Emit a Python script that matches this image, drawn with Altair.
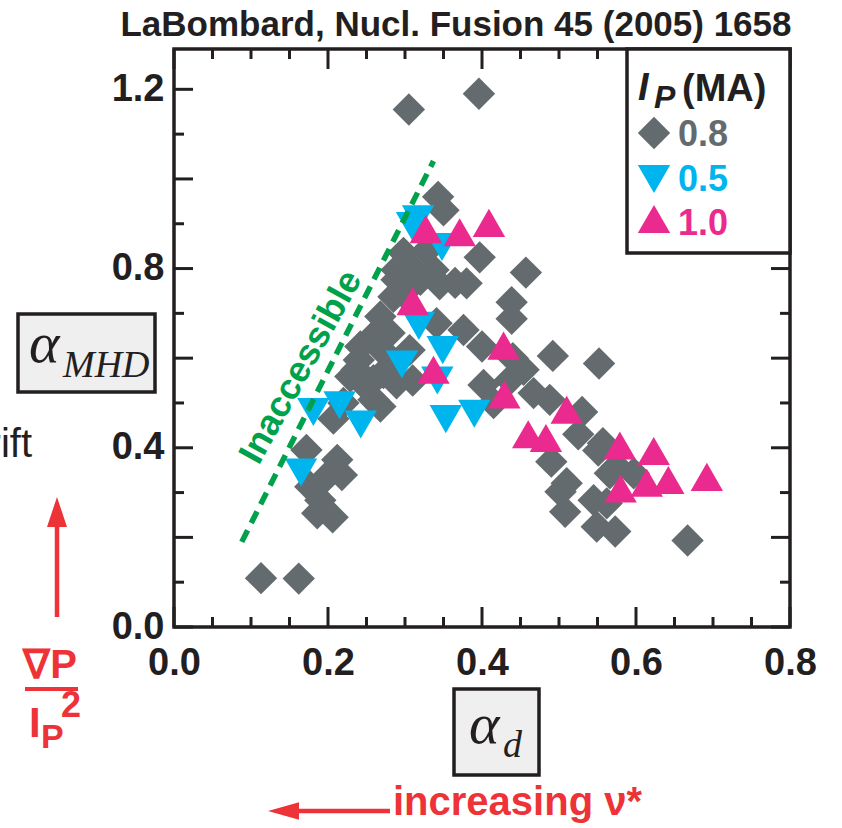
import altair as alt
import pandas as pd

# ---------------- data ----------------
gray_x = [0.113, 0.162, 0.305, 0.396, 0.667, 0.172, 0.177, 0.190, 0.186, 0.206,
          0.198, 0.212, 0.218, 0.207, 0.220, 0.229, 0.237, 0.240, 0.250, 0.259,
          0.259, 0.268, 0.272, 0.280, 0.289, 0.242, 0.258, 0.272, 0.280, 0.268,
          0.285, 0.298, 0.289, 0.289, 0.298, 0.310, 0.328, 0.337, 0.320, 0.345,
          0.343, 0.350, 0.380, 0.397, 0.457, 0.4385, 0.4385, 0.376, 0.400, 0.341,
          0.306, 0.310, 0.492, 0.552, 0.402, 0.415, 0.436, 0.454, 0.467, 0.488,
          0.530, 0.525, 0.551, 0.490, 0.575, 0.597, 0.566, 0.510, 0.502, 0.508,
          0.545, 0.549, 0.573, 0.562, 0.557, 0.365, 0.440]
gray_y = [0.109, 0.108, 1.155, 1.190, 0.193, 0.395, 0.313, 0.283, 0.254, 0.245,
          0.335, 0.373, 0.339, 0.465, 0.500, 0.559, 0.574, 0.596, 0.536, 0.551,
          0.507, 0.492, 0.567, 0.581, 0.544, 0.626, 0.648, 0.615, 0.656, 0.693,
          0.737, 0.745, 0.775, 0.797, 0.835, 0.800, 0.840, 0.797, 0.775, 0.765,
          0.960, 0.930, 0.767, 0.825, 0.791, 0.725, 0.688, 0.663, 0.626, 0.678,
          0.618, 0.550, 0.605, 0.588, 0.540, 0.500, 0.551, 0.574, 0.522, 0.507,
          0.480, 0.430, 0.394, 0.369, 0.358, 0.343, 0.343, 0.321, 0.302, 0.257,
          0.283, 0.224, 0.213, 0.276, 0.410, 0.768, 0.600]

blue_x = [0.165, 0.181, 0.215, 0.2425, 0.296, 0.309, 0.317, 0.318, 0.342, 0.349,
          0.348, 0.353, 0.390]
blue_y = [0.345, 0.480, 0.495, 0.452, 0.586, 0.895, 0.910, 0.672, 0.550, 0.618,
          0.848, 0.464, 0.476]

pink_x = [0.310, 0.327, 0.337, 0.371, 0.409, 0.428, 0.429, 0.460, 0.483, 0.510,
          0.579, 0.623, 0.580, 0.614, 0.642, 0.692]
pink_y = [0.727, 0.888, 0.574, 0.881, 0.902, 0.628, 0.519, 0.430, 0.422, 0.485,
          0.405, 0.393, 0.309, 0.322, 0.328, 0.335]

series_labels = ["0.8", "0.5", "1.0"]
series_colors = ["#646B6E", "#00B4EE", "#EA2A8E"]
series_shapes = ["diamond", "triangle-down", "triangle-up"]

x_labels = [0.0, 0.2, 0.4, 0.6, 0.8]
x_major = [0.0, 0.2, 0.4, 0.6, 0.8]
x_minor = [0.05, 0.1, 0.15, 0.25, 0.3, 0.35, 0.45, 0.5, 0.55, 0.65, 0.7, 0.75]
y_labels = [0.0, 0.4, 0.8, 1.2]
y_major = [0.0, 0.2, 0.4, 0.6, 0.8, 1.0, 1.2]
y_minor = [0.1, 0.3, 0.5, 0.7, 0.9, 1.1]

boundary_x = [0.088, 0.337]
boundary_y = [0.19, 1.04]

# ---------------- styling ----------------
FRAME = "#231F20"
GREEN = "#00A14B"
RED = "#EE3338"
SANS = "Liberation Sans"
SERIF = "Liberation Serif"
W, H = 616, 578

xs = alt.Scale(domain=[0, 0.8], nice=False, zero=False)
ys = alt.Scale(domain=[0, 1.29], nice=False, zero=False)
x_axis = alt.Axis(values=x_labels, format=".1f", labelPadding=17, labelFlush=False, title=None)
y_axis = alt.Axis(values=y_labels, format=".1f", labelPadding=10, labelFlush=False, title=None)

rows = []
for xv, yv, lab in [(gray_x, gray_y, "0.8"), (blue_x, blue_y, "0.5"), (pink_x, pink_y, "1.0")]:
    for a, b in zip(xv, yv):
        rows.append({"x": a, "y": b, "series": lab})
pts = pd.DataFrame(rows)

points = alt.Chart(pts).mark_point(filled=True, opacity=1, size=1050, strokeWidth=0).encode(
    x=alt.X("x:Q", scale=xs, axis=x_axis),
    y=alt.Y("y:Q", scale=ys, axis=y_axis),
    shape=alt.Shape("series:N", scale=alt.Scale(domain=series_labels, range=series_shapes), legend=None),
    color=alt.Color("series:N", scale=alt.Scale(domain=series_labels, range=series_colors), legend=None),
)

layers = [points]

# inward ticks on all four sides
def xticks(vals, length):
    d = pd.DataFrame({"x": vals})
    b = alt.Chart(d).mark_rule(color=FRAME, strokeWidth=3).encode(
        x=alt.X("x:Q", scale=xs, axis=x_axis), y=alt.value(H), y2=alt.value(H - length))
    t = alt.Chart(d).mark_rule(color=FRAME, strokeWidth=3).encode(
        x=alt.X("x:Q", scale=xs, axis=x_axis), y=alt.value(0), y2=alt.value(length))
    return [b, t]

def yticks(vals, length):
    d = pd.DataFrame({"y": vals})
    l = alt.Chart(d).mark_rule(color=FRAME, strokeWidth=3).encode(
        y=alt.Y("y:Q", scale=ys, axis=y_axis), x=alt.value(0), x2=alt.value(length))
    r = alt.Chart(d).mark_rule(color=FRAME, strokeWidth=3).encode(
        y=alt.Y("y:Q", scale=ys, axis=y_axis), x=alt.value(W), x2=alt.value(W - length))
    return [l, r]

layers += xticks(x_major, 20) + xticks(x_minor, 10) + yticks(y_major, 19) + yticks(y_minor, 10)

# boundary of inaccessible region
bnd = pd.DataFrame({"x": boundary_x, "y": boundary_y})
layers.append(alt.Chart(bnd).mark_line(color=GREEN, strokeWidth=5.5, strokeDash=[13, 8], strokeCap="butt").encode(
    x=alt.X("x:Q", scale=xs, axis=x_axis), y=alt.Y("y:Q", scale=ys, axis=y_axis)))


def one():
    return pd.DataFrame({"k": [0]})


def text(s, x, y, size, color=FRAME, font=SANS, weight="bold", style="normal",
         align="left", baseline="alphabetic", angle=0):
    kw = dict(text=s, fontSize=size, color=color, font=font, fontWeight=weight,
              fontStyle=style, align=align, baseline=baseline)
    if angle:
        kw["angle"] = angle
    return alt.Chart(one()).mark_text(**kw).encode(x=alt.value(x), y=alt.value(y))


def rect(x1, x2, y1, y2, fill, sw=3.5):
    return alt.Chart(one()).mark_rect(fill=fill, stroke=FRAME, strokeWidth=sw).encode(
        x=alt.value(x1), x2=alt.value(x2), y=alt.value(y1), y2=alt.value(y2))


def rule(x1, x2, y1, y2, color, sw):
    return alt.Chart(one()).mark_rule(color=color, strokeWidth=sw).encode(
        x=alt.value(x1), x2=alt.value(x2), y=alt.value(y1), y2=alt.value(y2))


def head(x, y, path, size, color):
    return alt.Chart(one()).mark_point(shape=path, size=size, filled=True, opacity=1,
                                       color=color, strokeWidth=0).encode(
        x=alt.value(x), y=alt.value(y))


# "Inaccessible" label
layers.append(text("Inaccessible", 127, 318, 36, color=GREEN, align="center",
                   baseline="middle", angle=299))

# title
layers.append(text("LaBombard, Nucl. Fusion 45 (2005) 1658", 282, -13, 35, align="center"))

# legend (box, title, entries)
layers.append(rect(453, W, 0, 204, "white"))
layers.append(text("I", 464, 51, 38, style="italic"))
layers.append(text("P", 480, 59, 32, style="italic"))
layers.append(text("(MA)", 508, 52, 38))
sym_y = [84, 130, 170]
lab_y = [97, 142, 186]
for lab, col, shp, sy, ly in zip(series_labels, series_colors, series_shapes, sym_y, lab_y):
    layers.append(head(480, sy, shp, 1050, col))
    layers.append(text(lab, 504, ly, 36, color=col))

# alpha_MHD box on the left
layers.append(rect(-156, -19, 265, 343, "#EFEFEF"))
layers.append(text("\u03b1", -145, 313, 58, font=SERIF, weight="normal", style="italic"))
layers.append(text("MHD", -111, 328, 38, font=SERIF, weight="normal", style="italic"))

# partially cut text at left edge (only its end is visible in the reference)
layers.append(text("drift", -142, 408, 40, weight="normal", align="right"))

# red arrow up and grad P / Ip^2
layers.append(rule(-117, -117, 568, 472, RED, 4.5))
layers.append(head(-117, 463, "M0,-1L-0.667,1L0.667,1Z", 900, RED))
layers.append(text("\u2207P", -124, 629, 40, color=RED, align="center"))
layers.append(rule(-149, -96, 640, 640, RED, 4))
layers.append(text("I", -145, 688, 42, color=RED))
layers.append(text("P", -133, 699, 34, color=RED))
layers.append(text("2", -113, 668, 36, color=RED))

# alpha_d box below
layers.append(rect(280, 365, 640, 726, "#EFEFEF"))
layers.append(text("\u03b1", 295, 694, 58, font=SERIF, weight="normal", style="italic"))
layers.append(text("d", 329, 708, 38, font=SERIF, weight="normal", style="italic"))

# increasing nu* arrow
layers.append(rule(216, 118, 762, 762, RED, 4.5))
layers.append(head(109.5, 762, "M-1,0L1,-0.567L1,0.567Z", 961, RED))
layers.append(text("increasing \u03bd*", 219, 766, 40, color=RED))

chart = alt.layer(*layers).properties(
    width=W, height=H,
    padding={"left": 174, "top": 49, "right": 52, "bottom": 201},
    autosize=alt.AutoSizeParams(type="none"),
).configure_view(
    stroke=FRAME, strokeWidth=3.5
).configure_axis(
    labelFont=SANS, labelFontWeight="bold", labelFontSize=38, labelColor=FRAME,
    ticks=False, domain=False, grid=False,
)

chart.save("out.html", embed_options={"renderer": "svg", "actions": False})
